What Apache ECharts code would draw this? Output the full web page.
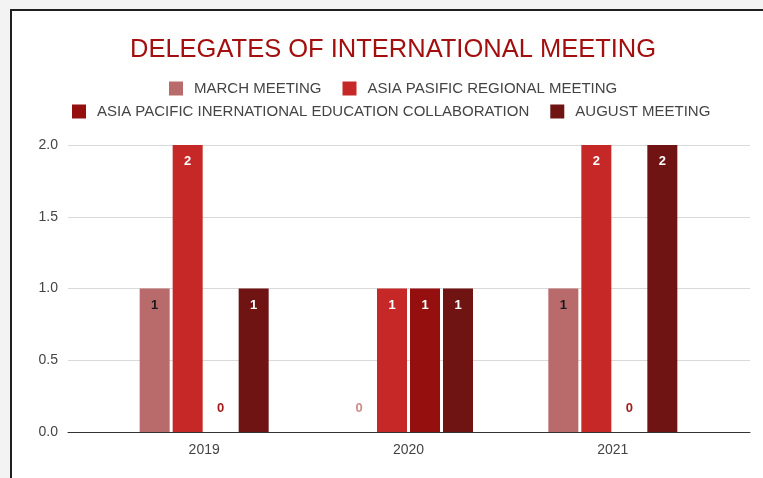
<!DOCTYPE html>
<html>
<head>
<meta charset="utf-8">
<script src="https://cdn.jsdelivr.net/npm/echarts@6/dist/echarts.min.js"></script>
<style>
  html, body { margin: 0; padding: 0; background: #f3f3f3; }
  #card {
    position: absolute; left: 10px; top: 9px;
    width: 800px; height: 520px;
    background: #fff; border: 2px solid #1f1f1f;
  }
  #main { position: absolute; left: 0; top: 0; width: 763px; height: 478px; }
</style>
</head>
<body>
<div id="card"></div>
<div id="main"></div>
<script>
// chart data
const years = ['2019', '2020', '2021'];
const seriesNames = [
  'MARCH MEETING',
  'ASIA PASIFIC REGIONAL MEETING',
  'ASIA PACIFIC INERNATIONAL EDUCATION COLLABORATION',
  'AUGUST MEETING'
];
const marchMeeting = [1, 0, 1];
const asiaPasificRegional = [2, 1, 2];
const asiaPacificCollab = [0, 1, 0];
const augustMeeting = [1, 1, 2];
const yTicks = [0, 0.5, 1, 1.5, 2];

const barColors = ['#b96b6b', '#c62828', '#950f0f', '#6f1313'];
const zeroLabelColors = ['#cf8a8a', '#c62828', '#a51b1b', '#7a1a1a'];
const insideLabelColors = ['#1a1a1a', '#fff', '#fff', '#fff'];
const font = 'Arial, "Liberation Sans", sans-serif';

function makeData (values, idx) {
  return values.map(v => {
    if (v === 0) {
      return {
        value: v,
        label: { position: 'top', distance: 17, color: zeroLabelColors[idx] }
      };
    }
    return { value: v };
  });
}

const allValues = [marchMeeting, asiaPasificRegional, asiaPacificCollab, augustMeeting];

const series = allValues.map((vals, i) => ({
  name: seriesNames[i],
  type: 'bar',
  xAxisIndex: 1,
  yAxisIndex: 1,
  barWidth: 30,
  barGap: '10%',
  itemStyle: { color: barColors[i] },
  label: {
    show: true,
    position: 'insideTop',
    distance: 10,
    color: insideLabelColors[i],
    fontSize: 13,
    fontWeight: 'bold',
    fontFamily: font
  },
  data: makeData(vals, i)
}));

const legendCommon = {
  padding: 0,
  icon: 'rect',
  itemWidth: 14,
  itemHeight: 14,
  itemGap: 21,
  textStyle: { color: '#444', fontSize: 15, fontFamily: font, padding: [0, 0, 0, 6] }
};

const chart = echarts.init(document.getElementById('main'));
chart.setOption({
  backgroundColor: 'transparent',
  animation: false,
  title: {
    text: 'DELEGATES OF INTERNATIONAL MEETING',
    left: 130,
    top: 37,
    padding: 0,
    textStyle: { color: '#a30f0f', fontSize: 25.5, fontWeight: 'normal', fontFamily: font }
  },
  legend: [
    Object.assign({ data: seriesNames.slice(0, 2), left: 169, top: 81 }, legendCommon),
    Object.assign({ data: seriesNames.slice(2), left: 72, top: 104 }, legendCommon)
  ],
  grid: [
    { left: 68, right: 13, top: 145, bottom: 46 },
    { left: 102, right: 48, top: 145, bottom: 46 }
  ],
  xAxis: [
    {
      type: 'category',
      gridIndex: 0,
      data: years,
      axisLine: { lineStyle: { color: '#333', width: 1 } },
      axisTick: { show: false },
      axisLabel: { show: false }
    },
    {
      type: 'category',
      gridIndex: 1,
      data: years,
      axisLine: { show: false },
      axisTick: { show: false },
      axisLabel: { color: '#444', fontSize: 14, margin: 11, fontFamily: font }
    }
  ],
  yAxis: [
    {
      type: 'value',
      gridIndex: 0,
      min: yTicks[0],
      max: yTicks[yTicks.length - 1],
      interval: 0.5,
      axisLine: { show: false },
      axisTick: { show: false },
      axisLabel: {
        color: '#444',
        fontSize: 14,
        margin: 10,
        fontFamily: font,
        formatter: v => v.toFixed(1)
      },
      splitLine: { lineStyle: { color: '#d9d9d9' } }
    },
    {
      type: 'value',
      gridIndex: 1,
      min: yTicks[0],
      max: yTicks[yTicks.length - 1],
      interval: 0.5,
      show: false
    }
  ],
  series: series
});
</script>
</body>
</html>
